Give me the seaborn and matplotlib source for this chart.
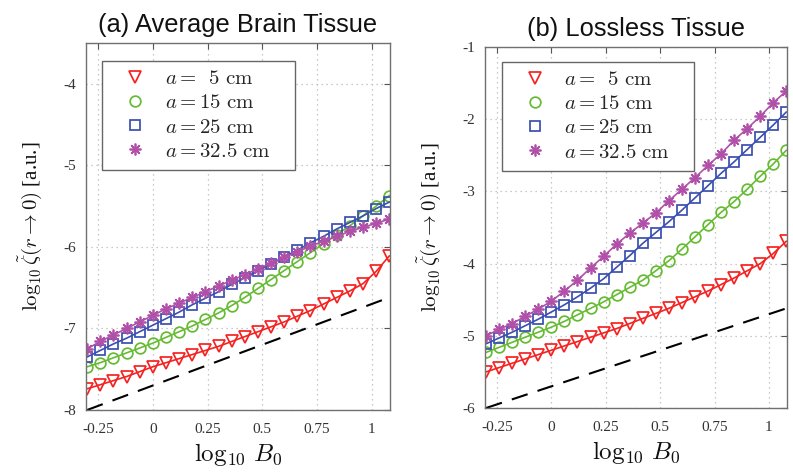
import matplotlib
matplotlib.use("Agg")
import matplotlib.pyplot as plt
import seaborn as sns
import numpy as np
from matplotlib.ticker import FixedLocator, FixedFormatter

# ---------------- data ----------------
log_b0 = [-0.30, -0.24, -0.18, -0.12, -0.06, 0.00, 0.06, 0.12, 0.18, 0.24, 0.30, 0.36,
          0.42, 0.48, 0.54, 0.60, 0.66, 0.72, 0.78, 0.84, 0.90, 0.96, 1.02, 1.08]

# (a) Average Brain Tissue
brain_a5 = [-7.74, -7.69, -7.64, -7.59, -7.53, -7.47, -7.42, -7.37, -7.32, -7.27, -7.22, -7.16,
            -7.10, -7.04, -6.98, -6.92, -6.85, -6.78, -6.70, -6.62, -6.54, -6.45, -6.30, -6.11]
brain_a15 = [-7.47, -7.42, -7.36, -7.30, -7.24, -7.18, -7.11, -7.04, -6.97, -6.89, -6.81, -6.72,
             -6.62, -6.51, -6.40, -6.29, -6.18, -6.07, -5.96, -5.85, -5.74, -5.62, -5.50, -5.37]
brain_a25 = [-7.35, -7.27, -7.19, -7.12, -7.04, -6.96, -6.88, -6.80, -6.71, -6.63, -6.55, -6.46,
             -6.38, -6.29, -6.21, -6.12, -6.04, -5.95, -5.87, -5.78, -5.70, -5.62, -5.53, -5.45]
brain_a325 = [-7.25, -7.16, -7.08, -7.00, -6.92, -6.84, -6.76, -6.69, -6.62, -6.55, -6.48, -6.41,
              -6.34, -6.27, -6.20, -6.13, -6.06, -5.99, -5.93, -5.87, -5.81, -5.76, -5.71, -5.66]

# (b) Lossless Tissue
lossless_a5 = [-5.50, -5.44, -5.38, -5.32, -5.26, -5.20, -5.14, -5.08, -5.02, -4.96, -4.90, -4.83,
               -4.76, -4.69, -4.62, -4.54, -4.46, -4.38, -4.29, -4.20, -4.10, -4.00, -3.86, -3.69]
lossless_a15 = [-5.23, -5.16, -5.09, -5.02, -4.95, -4.88, -4.80, -4.71, -4.62, -4.53, -4.43, -4.33,
                -4.23, -4.10, -3.96, -3.80, -3.63, -3.46, -3.29, -3.14, -2.97, -2.79, -2.62, -2.43]
lossless_a25 = [-5.11, -5.03, -4.95, -4.86, -4.77, -4.67, -4.57, -4.46, -4.34, -4.21, -4.05, -3.89,
                -3.72, -3.57, -3.42, -3.26, -3.09, -2.92, -2.75, -2.59, -2.42, -2.25, -2.08, -1.90]
lossless_a325 = [-5.00, -4.91, -4.83, -4.73, -4.63, -4.52, -4.38, -4.23, -4.06, -3.90, -3.73, -3.58,
                 -3.44, -3.30, -3.13, -2.97, -2.81, -2.64, -2.48, -2.29, -2.13, -1.96, -1.77, -1.61]

# reference slope-1 dashed lines
ref_x = [-0.30, 1.08]
ref_brain = [-8.00, -6.62]
ref_lossless = [-6.00, -4.62]

series_labels = [r'$a = \enspace 5\ \mathrm{cm}$', r'$a = 15\ \mathrm{cm}$',
                 r'$a = 25\ \mathrm{cm}$', r'$a = 32.5\ \mathrm{cm}$']
xtick_vals = [-0.25, 0, 0.25, 0.5, 0.75, 1]
xtick_labels = ['-0.25', '0', '0.25', '0.5', '0.75', '1']
ytick_brain = [-8, -7, -6, -5, -4]
ytick_lossless = [-6, -5, -4, -3, -2, -1]
titles = ['(a) Average Brain Tissue', '(b) Lossless Tissue']

# ---------------- style ----------------
sns.set_theme(style="white")
plt.rcParams['font.family'] = ['Liberation Serif', 'DejaVu Serif']
plt.rcParams['mathtext.fontset'] = 'cm'

colors = ['#f52222', '#66bb33', '#3a4fb0', '#b050a8']
markers = ['v', 'o', 's', (8, 2, 0)]
msizes = [9.3, 7.7, 7.0, 8.5]

W, H = 793, 473
fig = plt.figure(figsize=(W / 100, H / 100), dpi=100)
ax_a = fig.add_axes([86 / W, (H - 410) / H, 304 / W, 367 / H])
ax_b = fig.add_axes([485 / W, (H - 408) / H, 302 / W, 361 / H])

panels = [
    (ax_a, [brain_a5, brain_a15, brain_a25, brain_a325], ref_brain, (-8, -3.5), ytick_brain),
    (ax_b, [lossless_a5, lossless_a15, lossless_a25, lossless_a325], ref_lossless, (-6, -1), ytick_lossless),
]

for i, (ax, ys, ref, ylim, yt) in enumerate(panels):
    handles = []
    for y, c, m, ms, lab in zip(ys, colors, markers, msizes, series_labels):
        # connecting line
        sns.lineplot(x=log_b0, y=y, ax=ax, color=c, linewidth=1.2,
                     sort=False, errorbar=None)
        # hollow markers
        n_before = len(ax.lines)
        sns.lineplot(x=log_b0, y=y, ax=ax, color=c, linestyle='none', marker=m,
                     markersize=ms, markerfacecolor='none', markeredgecolor=c,
                     markeredgewidth=1.25, sort=False, errorbar=None)
        mk = ax.lines[n_before]
        mk.set_markerfacecolor('none')
        mk.set_linestyle('none')
        handles.append(mk)
    sns.lineplot(x=ref_x, y=ref, ax=ax, color='black', linewidth=1.5,
                 linestyle=(0, (8, 5)), sort=False, errorbar=None)

    ax.set_xlim(-0.305, 1.083)
    ax.set_ylim(*ylim)
    ax.xaxis.set_major_locator(FixedLocator(xtick_vals))
    ax.xaxis.set_major_formatter(FixedFormatter(xtick_labels))
    ax.yaxis.set_major_locator(FixedLocator(yt))
    ax.yaxis.set_major_formatter(FixedFormatter([str(v) for v in yt]))
    ax.grid(True, color='#b8b8b8', linestyle=(0, (1, 3)), linewidth=0.9)
    ax.tick_params(direction='in', length=4, width=0.8, colors='#555555',
                   top=True, right=True, labelsize=11, labelcolor='#333333')
    ax.tick_params(axis='x', pad=9)
    ax.tick_params(axis='y', pad=7)
    for sp in ax.spines.values():
        sp.set_color('#707070')
        sp.set_linewidth(1.0)
        sp.set_visible(True)

    ax.set_xlabel(r'$\log_{10}\, B_0$', fontsize=18, labelpad=4, color='#111111')
    ax.set_ylabel(r'$\log_{10}\tilde{\zeta}(r\rightarrow 0)$ [a.u.]', fontsize=15,
                  labelpad=14, color='#111111')
    ax.set_title(titles[i], fontsize=18.4, family=['Liberation Sans', 'DejaVu Sans'],
                 pad=8, color='#111111')

    anchor = (0.053, 0.0, 0.635, 0.95) if i == 0 else (0.056, 0.0, 0.636, 0.958)
    leg = ax.legend(handles=handles, labels=series_labels, loc='upper left',
                    bbox_to_anchor=anchor, mode='expand',
                    fontsize=15, frameon=True, fancybox=False, framealpha=1,
                    edgecolor='#666666', borderpad=0.4, labelspacing=0.22,
                    handlelength=2.4, handletextpad=0.2, borderaxespad=0)
    leg.get_frame().set_linewidth(1.0)

fig.savefig('out.png', dpi=100)
